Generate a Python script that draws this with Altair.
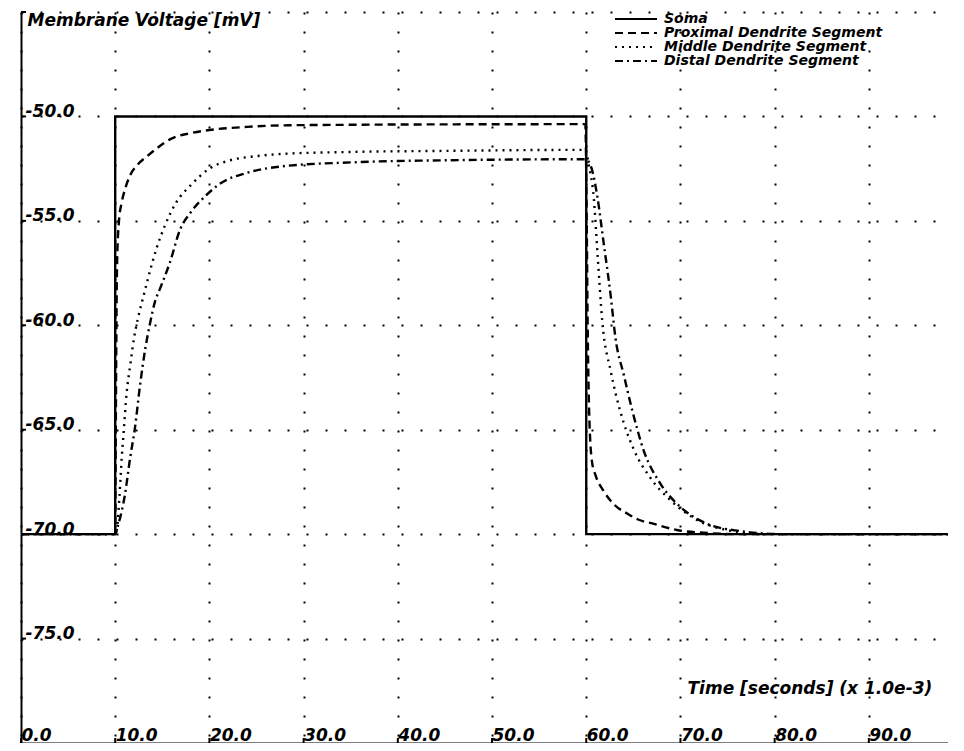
import altair as alt
import pandas as pd

series_names = ["Soma", "Proximal Dendrite Segment", "Middle Dendrite Segment", "Distal Dendrite Segment"]
dash_styles = [[1, 0], [8, 5], [2, 5], [8, 4, 2, 4]]

soma_t = [0, 10, 10, 60, 60, 98.4]
soma_v = [-70, -70, -50, -50, -70, -70]

prox_t = [0, 10, 10.05, 10.1, 10.2, 10.4, 10.7, 11.1, 11.6, 12.4, 13.4, 14.5, 15.8, 18, 20, 24, 27.5, 35, 45,
          59.9, 60.05, 60.15, 60.3, 60.6, 61.0, 61.8, 63.0, 64.3, 65.5, 67.1, 69.6, 73, 76, 98.4]
prox_v = [-70, -70, -66, -62, -57, -55, -54.1, -53.4, -52.8, -52.3, -51.9, -51.5, -51.1, -50.8, -50.65, -50.5,
          -50.43, -50.4, -50.38, -50.37, -55, -60, -64, -66.5, -67.2, -67.9, -68.6, -69.0, -69.3, -69.5, -69.8,
          -69.95, -70, -70]

mid_t = [0, 10, 10.2, 10.45, 10.7, 10.9, 11.2, 11.6, 12.0, 12.5, 13.0, 13.4, 14.4, 15.3, 16.5, 18, 20, 22.2, 25,
         27.5, 35, 45, 59.9, 60.3, 60.8, 61.2, 61.7, 62.6, 63.6, 65.0, 66.8, 69.0, 72.1, 74.9, 79, 98.4]
mid_v = [-70, -70, -69.7, -68.2, -66.3, -65.1, -63.3, -61.9, -60.6, -59.5, -58.6, -57.9, -56.3, -55.2, -54.1,
         -53.3, -52.5, -52.1, -51.9, -51.8, -51.7, -51.65, -51.6, -52.4, -53.9, -56.6, -59.8, -62.2, -64.1, -65.9,
         -67.3, -68.4, -69.4, -69.8, -70, -70]

dist_t = [0, 10, 10.35, 11.0, 11.6, 12.1, 12.6, 13.2, 13.7, 14.2, 14.8, 15.8, 16.9, 18, 19.6, 21.2, 24, 27.5, 35,
          45, 59.9, 60.5, 61.2, 61.8, 62.6, 63.1, 64.0, 64.9, 66.1, 67.9, 70.0, 72.8, 76.3, 81, 98.4]
dist_v = [-70, -70, -69.5, -68.2, -66.3, -64.9, -63.0, -61.1, -59.9, -58.9, -58.2, -57.0, -55.4, -54.6, -53.8,
          -53.2, -52.7, -52.4, -52.2, -52.1, -52.05, -52.4, -53.9, -55.9, -58.6, -60.6, -62.4, -64.1, -66.0,
          -67.6, -68.7, -69.5, -69.85, -70, -70]

x_ticks = [0, 10, 20, 30, 40, 50, 60, 70, 80, 90]
y_ticks = [-75, -70, -65, -60, -55, -50, -45]

rows = []
for name, ts, vs in zip(series_names, [soma_t, prox_t, mid_t, dist_t], [soma_v, prox_v, mid_v, dist_v]):
    for i, (t, v) in enumerate(zip(ts, vs)):
        rows.append({"series": name, "t": t, "v": v, "i": i})
df = pd.DataFrame(rows)
xt_df = pd.DataFrame({"t": x_ticks})
yt_df = pd.DataFrame({"v": y_ticks})

FONT = "DejaVu Sans"
W, H = 927, 731

x_scale = alt.Scale(domain=[0, 98.4], nice=False, zero=False)
y_scale = alt.Scale(domain=[-80, -45], nice=False, zero=False)

x_enc = alt.X("t:Q", scale=x_scale,
              axis=alt.Axis(values=x_ticks, format=".1f", title="Time [seconds]  (x 1.0e-3)",
                            labelAlign="left", labelBaseline="alphabetic", labelPadding=-3,
                            labelFlush=False, labelOverlap=False, ticks=False, tickSize=0,
                            titleX=666, titleY=-50, titleAlign="left", titleBaseline="alphabetic",
                            titleAnchor="start"))
y_enc = alt.Y("v:Q", scale=y_scale,
              axis=alt.Axis(values=y_ticks, title="Membrane Voltage [mV]",
                            labelExpr="datum.value == -45 ? '' : '-' + format(abs(datum.value), '.1f')",
                            labelAlign="left", labelBaseline="alphabetic", labelPadding=-4,
                            labelOverlap=False, labelFlush=False, ticks=False, tickSize=0,
                            titleAngle=0, titleX=6, titleY=13, titleAlign="left",
                            titleBaseline="alphabetic", titleAnchor="start"))

# long horizontal stroke symbol (path in unit box, scaled by sqrt(size)/2)
dash_enc = alt.StrokeDash("series:N", scale=alt.Scale(domain=series_names, range=dash_styles),
                          legend=alt.Legend(title=None, orient="none", legendX=608, legendY=0,
                                            symbolType="M-6,0H6", symbolSize=49, symbolStrokeWidth=2,
                                            symbolStrokeColor="black", labelOffset=21,
                                            rowPadding=-2, padding=0, labelFont=FONT, labelFontSize=14,
                                            labelFontStyle="italic", labelFontWeight="bold",
                                            labelColor="black", labelLimit=400))

soma = alt.Chart(df[df.series == "Soma"]).mark_line(color="black", strokeWidth=2.4, interpolate="linear").encode(
    x=x_enc, y=y_enc, strokeDash=dash_enc, order="i:Q")
dend = alt.Chart(df[df.series != "Soma"]).mark_line(color="black", strokeWidth=2.4, interpolate="monotone").encode(
    x=x_enc, y=y_enc, strokeDash=dash_enc, order="i:Q")

y_tickmarks = alt.Chart(yt_df).mark_rule(color="black", strokeWidth=2).encode(
    y=alt.Y("v:Q", scale=y_scale), x=alt.value(0), x2=alt.value(5))
x_tickmarks = alt.Chart(xt_df).mark_rule(color="black", strokeWidth=2).encode(
    x=alt.X("t:Q", scale=x_scale), y=alt.value(H), y2=alt.value(H - 5))

chart = alt.layer(soma, dend, y_tickmarks, x_tickmarks).properties(
    width=W, height=H,
    autosize=alt.AutoSizeParams(type="none"),
    padding={"left": 13, "top": 4, "right": 0, "bottom": 0},
    background="white",
).configure_view(stroke=None).configure_axis(
    domainColor="black", domainWidth=2,
    grid=True, gridColor="black", gridOpacity=1, gridWidth=2, gridDash=[2, 17],
    labelFont=FONT, labelFontSize=17, labelFontStyle="italic", labelFontWeight="bold", labelColor="black",
    titleFont=FONT, titleFontSize=17, titleFontStyle="italic", titleFontWeight="bold", titleColor="black",
)

chart.save("out.html", embed_options={"renderer": "svg", "actions": False})
